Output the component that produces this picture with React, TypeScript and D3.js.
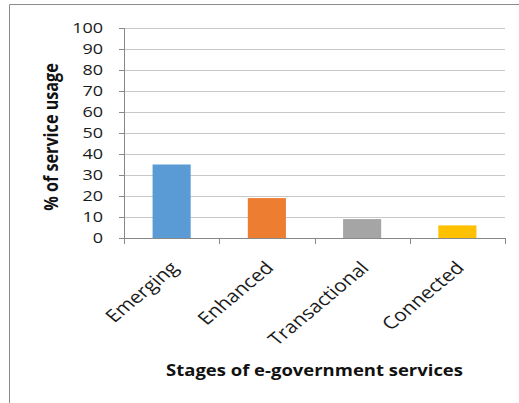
import React from "react";
import * as d3 from "d3";

const categories = ["Emerging", "Enhanced", "Transactional", "Connected"];
const values = [35, 19, 9, 6];
const barColors = ["#5B9BD5", "#ED7D31", "#A5A5A5", "#FFC000"];
const yTicks = [0, 10, 20, 30, 40, 50, 60, 70, 80, 90, 100];
const yTitle = "% of service usage";
const xTitle = "Stages of e-government services";

const W = 519;
const H = 403;
const left = 124;
const right = 505;
const top = 28;
const bottom = 238;
const font = "'Open Sans', 'Liberation Sans', sans-serif";
const SX = 1.2; // horizontal stretch of the original image

export default function App() {
  const x = d3
    .scaleBand<string>()
    .domain(categories)
    .range([left, right])
    .paddingInner(0.6)
    .paddingOuter(0.3);
  const y = d3.scaleLinear().domain([0, 100]).range([bottom, top]);
  const step = x.step();
  const boundaries = d3.range(categories.length + 1).map((i) => left + i * step);

  return (
    <svg
      width={W}
      height={H}
      style={{ position: "absolute", left: 0, top: 0, background: "#fff" }}
      fontFamily={font}
    >
      <rect x={0} y={0} width={W} height={H} fill="#fff" />
      {/* frame */}
      <line x1={9.5} x2={W} y1={4.5} y2={4.5} stroke="#8c8c8c" strokeWidth={1} />
      <line x1={9.5} x2={9.5} y1={4.5} y2={H} stroke="#8c8c8c" strokeWidth={1} />

      {/* gridlines */}
      {yTicks.map((t) => (
        <g key={t}>
          {t !== 0 && (
            <line
              x1={left}
              x2={right}
              y1={Math.round(y(t)) + 0.5}
              y2={Math.round(y(t)) + 0.5}
              stroke="#c8c8c8"
              strokeWidth={1}
            />
          )}
          <line
            x1={left - 5}
            x2={left}
            y1={Math.round(y(t)) + 0.5}
            y2={Math.round(y(t)) + 0.5}
            stroke="#888"
            strokeWidth={1}
          />
          <text
            transform={`translate(103,${y(t)}) scale(${SX},1)`}
            dy="0.36em"
            textAnchor="end"
            fontSize={15}
            fill="#1a1a1a"
          >
            {t}
          </text>
        </g>
      ))}

      {/* bars */}
      {categories.map((c, i) => (
        <rect
          key={c}
          x={x(c)}
          y={y(values[i])}
          width={x.bandwidth()}
          height={y(0) - y(values[i])}
          fill={barColors[i]}
        />
      ))}

      {/* axes */}
      <line x1={left + 0.5} x2={left + 0.5} y1={top} y2={bottom + 6} stroke="#888" />
      <line x1={left} x2={right} y1={Math.round(y(0)) + 0.5} y2={Math.round(y(0)) + 0.5} stroke="#888" />
      {boundaries.map((b, i) => (
        <line
          key={i}
          x1={Math.round(b) + 0.5}
          x2={Math.round(b) + 0.5}
          y1={bottom}
          y2={bottom + 6}
          stroke="#888"
        />
      ))}

      {/* category labels */}
      {categories.map((c) => {
        const cx = (x(c) as number) + x.bandwidth() / 2;
        return (
          <text
            key={c}
            transform={`translate(${cx + 8},${269}) scale(${SX},1) rotate(-45)`}
            textAnchor="end"
            fontSize={17.5}
            fill="#1a1a1a"
          >
            {c}
          </text>
        );
      })}

      {/* titles */}
      <text
        transform={`translate(58,${(top + bottom) / 2 + 4}) scale(${SX},1) rotate(-90)`}
        textAnchor="middle"
        fontSize={16.2}
        fontWeight="bold"
        fill="#111"
      >
        {yTitle}
      </text>
      <text
        transform={`translate(${(left + right) / 2},376) scale(${SX},1)`}
        textAnchor="middle"
        fontSize={15.4}
        fontWeight="bold"
        fill="#111"
      >
        {xTitle}
      </text>
    </svg>
  );
}
